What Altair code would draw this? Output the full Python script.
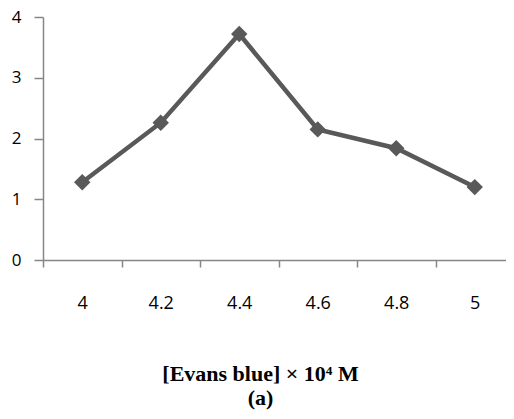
import altair as alt
import pandas as pd

categories = ["4", "4.2", "4.4", "4.6", "4.8", "5"]
values = [1.28, 2.26, 3.72, 2.15, 1.84, 1.20]
y_ticks = [0, 1, 2, 3, 4]
x_title = ["[Evans blue] × 10⁴ M", "(a)"]

df = pd.DataFrame({"conc": categories, "value": values})

axis_gray = "#868686"
line_gray = "#595959"

x = alt.X(
    "conc:N",
    sort=categories,
    scale=alt.Scale(type="band", paddingInner=0, paddingOuter=0, range=[0, 471]),
    axis=alt.Axis(
        title=x_title,
        labelAngle=0,
        tickBand="extent",
        labelFont="Open Sans",
        labelFontSize=18,
        labelColor="#000000",
        labelPadding=27,
        tickSize=7,
        tickColor=axis_gray,
        tickWidth=1.5,
        domainColor=axis_gray,
        domainWidth=1.5,
        grid=False,
        titleFont="Liberation Serif",
        titleFontWeight="bold",
        titleFontSize=22,
        titleColor="#000000",
        titleLineHeight=24,
        titleX=217,
        titleY=103,
        titleBaseline="top",
    ),
)

y = alt.Y(
    "value:Q",
    scale=alt.Scale(domain=[0, 4], nice=False, zero=True),
    axis=alt.Axis(
        title=None,
        values=y_ticks,
        labelFont="Open Sans",
        labelFontSize=17,
        labelColor="#000000",
        labelPadding=13,
        tickSize=9,
        tickColor=axis_gray,
        tickWidth=1.5,
        domainColor=axis_gray,
        domainWidth=1.5,
        grid=False,
    ),
)

line = alt.Chart(df).mark_line(color=line_gray, strokeWidth=4.5).encode(x=x, y=y)
pts = alt.Chart(df).mark_point(
    shape="diamond", filled=True, size=270, color=line_gray, opacity=1
).encode(x=x, y=y)

chart = (
    alt.layer(line, pts)
    .properties(
        width=463,
        height=243,
        autosize=alt.AutoSizeParams(type="none"),
        padding={"left": 35, "top": 9, "right": 0, "bottom": 151},
    )
    .configure_view(stroke=None)
)

chart.save("out.html", embed_options={"renderer": "svg", "actions": False})
